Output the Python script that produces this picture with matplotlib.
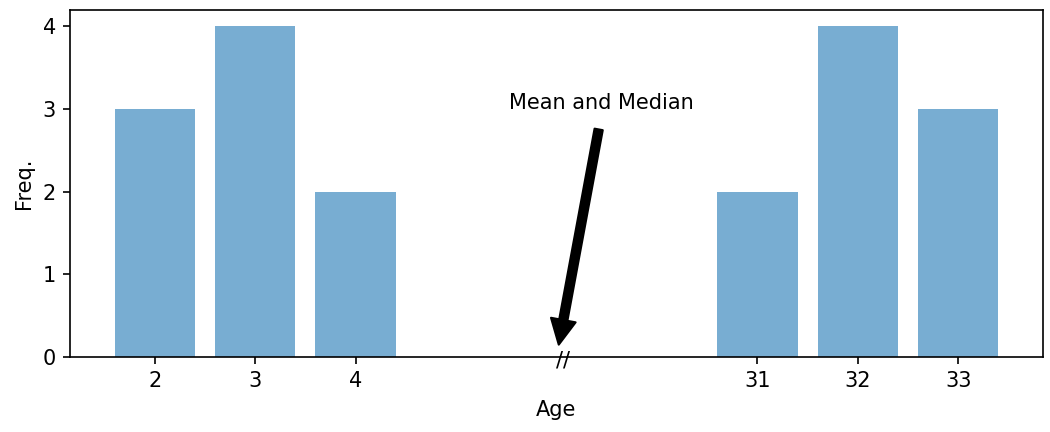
import numpy as np
import matplotlib.pyplot as plt

ages = ['2', '3', '4', '31', '32', '33']
freqs = [3, 4, 2, 2, 4, 3]
positions = [0, 1, 2, 6, 7, 8]
break_pos = 4

fig, ax = plt.subplots(figsize=(7, 2.88), dpi=150)
ax.bar(positions, freqs, color='tab:blue', alpha=0.6)
ax.set_xticks(positions)
ax.set_xticklabels(ages)
ax.set_xlabel('Age')
ax.set_ylabel('Freq.')
ax.set_yticks(range(5))

# axis break mark
ax.text(break_pos + 0.06, -0.04, '//', ha='center', va='center', fontsize=10)

ax.annotate('Mean and Median', xy=(break_pos, 0), xytext=(4.45, 3.0),
            ha='center', arrowprops=dict(facecolor='black', shrink=0.05))

fig.subplots_adjust(left=0.067, right=0.993, top=0.977, bottom=0.174)
fig.savefig('out.png')
